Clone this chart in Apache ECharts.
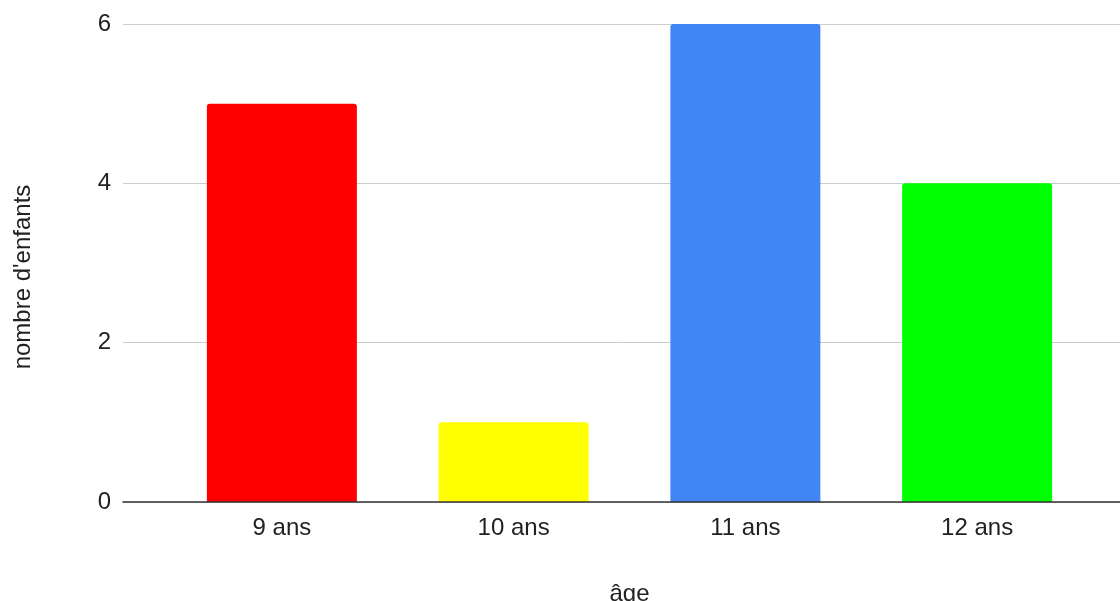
<!DOCTYPE html>
<html>
<head>
<meta charset="utf-8">
<script src="https://cdn.jsdelivr.net/npm/echarts@6/dist/echarts.min.js"></script>
<style>
html,body{margin:0;padding:0;background:#fff;}
#c{width:1120px;height:601px;}
</style>
</head>
<body>
<div id="c"></div>
<script>
const categories = ['9 ans', '10 ans', '11 ans', '12 ans'];
const values = [5, 1, 6, 4];
const barColors = ['#ff0000', '#ffff00', '#4285f4', '#00ff00'];
const yTicks = { min: 0, max: 6, interval: 2 };
const xTitle = 'âge';
const yTitle = "nombre d'enfants";

const font = 'Liberation Sans, Arial, sans-serif';
const chart = echarts.init(document.getElementById('c'));
chart.setOption({
  backgroundColor: '#ffffff',
  animation: false,
  grid: [
    { left: 123, right: 0, top: 24, bottom: 99, containLabel: false, outerBoundsMode: 'none' },
    { left: 166, right: 27, top: 24, bottom: 99, containLabel: false, outerBoundsMode: 'none' }
  ],
  xAxis: [
    {
      gridIndex: 0, type: 'value', min: 0, max: 1, z: 5,
      axisLine: { show: true, lineStyle: { color: '#333333', width: 1.5 } },
      axisTick: { show: false }, axisLabel: { show: false }, splitLine: { show: false }
    },
    {
      gridIndex: 1, type: 'category', data: categories,
      axisLine: { show: false }, axisTick: { show: false },
      axisLabel: { color: '#222222', fontSize: 24, fontFamily: font, margin: 14 },
      name: xTitle, nameLocation: 'middle', nameGap: 80,
      nameTextStyle: { color: '#222222', fontSize: 24, fontFamily: font }
    }
  ],
  yAxis: [
    {
      gridIndex: 0, type: 'value', min: yTicks.min, max: yTicks.max, interval: yTicks.interval,
      axisLine: { show: false }, axisTick: { show: false },
      axisLabel: { color: '#222222', fontSize: 24, fontFamily: font, margin: 12 },
      splitLine: { show: true, lineStyle: { color: '#cccccc', width: 1 } },
      name: yTitle, nameLocation: 'middle', nameGap: 88,
      nameTextStyle: { color: '#222222', fontSize: 24, fontFamily: font, padding: [0, 28, 0, 0] }
    },
    {
      gridIndex: 1, type: 'value', min: yTicks.min, max: yTicks.max, interval: yTicks.interval,
      show: false
    }
  ],
  series: [{
    type: 'bar',
    xAxisIndex: 1, yAxisIndex: 1,
    barWidth: 150,
    data: values.map((v, i) => ({ value: v, itemStyle: { color: barColors[i] } })),
    itemStyle: { borderRadius: [3, 3, 0, 0] }
  }]
});
</script>
</body>
</html>
